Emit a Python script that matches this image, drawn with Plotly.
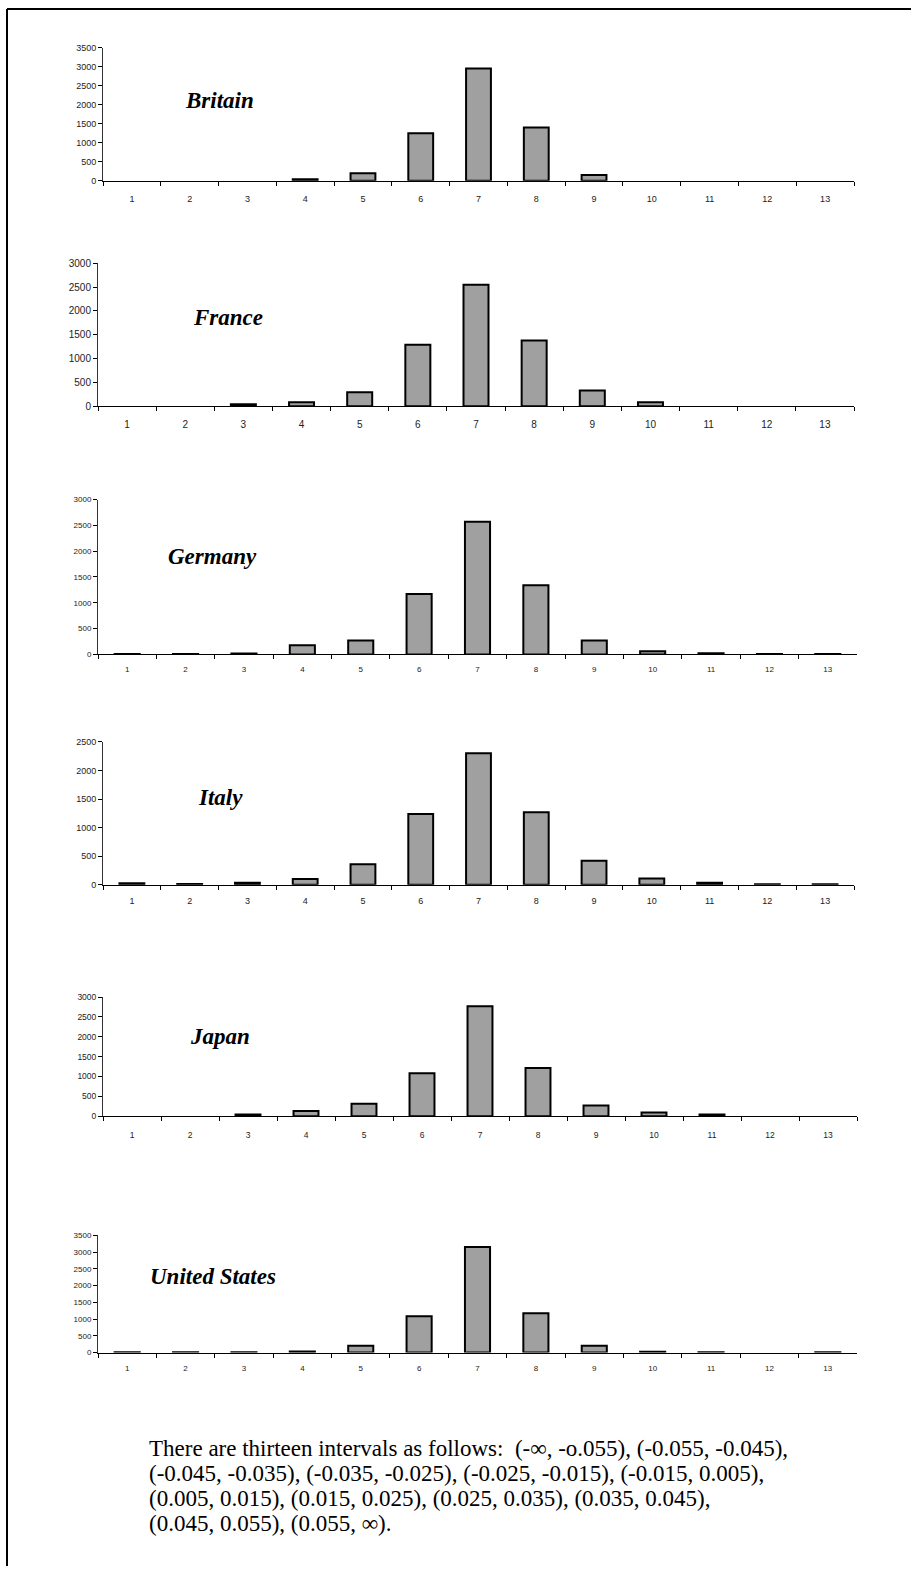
import plotly.graph_objects as go

W, H = 911, 1572

categories = [str(i) for i in range(1, 14)]

countries = ["Britain", "France", "Germany", "Italy", "Japan", "United States"]

britain = [0, 0, 0, 40, 200, 1250, 2950, 1400, 150, 0, 0, 0, 0]
france = [0, 0, 40, 80, 290, 1290, 2550, 1380, 330, 80, 0, 0, 0]
germany = [10, 10, 20, 180, 270, 1170, 2570, 1340, 270, 60, 25, 10, 10]
italy = [25, 15, 35, 100, 360, 1240, 2300, 1270, 420, 110, 35, 10, 10]
japan = [0, 0, 40, 130, 310, 1080, 2770, 1210, 270, 90, 40, 0, 0]
united_states = [10, 10, 10, 30, 200, 1080, 3150, 1170, 200, 20, 10, 0, 10]

series = [britain, france, germany, italy, japan, united_states]
y_max = [3500, 3000, 3000, 2500, 3000, 3500]
y_dtick = 500

note_lines = [
    "There are thirteen intervals as follows:  (-∞, -o.055), (-0.055, -0.045),",
    "(-0.045, -0.035), (-0.035, -0.025), (-0.025, -0.015), (-0.015, 0.005),",
    "(0.005, 0.015), (0.015, 0.025), (0.025, 0.035), (0.035, 0.045),",
    "(0.045, 0.055), (0.055, ∞).",
]

# panel geometry in pixels
panels = [
    dict(x0=103, x1=854, yt=43, yb=177, fs=9, tx=219, ty=96, so=9),
    dict(x0=98, x1=854, yt=260, yb=404, fs=10, tx=228, ty=315, so=9),
    dict(x0=98, x1=857, yt=498, yb=654, fs=8, tx=212, ty=555, so=7),
    dict(x0=103, x1=854, yt=742, yb=886, fs=9, tx=220, ty=798, so=7),
    dict(x0=103, x1=857, yt=999, yb=1119, fs=8.5, tx=220, ty=1039, so=11),
    dict(x0=98, x1=857, yt=1239, yb=1357, fs=8, tx=213, ty=1280, so=8),
]

fig = go.Figure()
layout = dict(
    width=W, height=H, margin=dict(l=0, r=0, t=0, b=0),
    paper_bgcolor="white", plot_bgcolor="white", showlegend=False,
)

annotations = []
for i, (name, vals, ym, p) in enumerate(zip(countries, series, y_max, panels)):
    n = i + 1
    xa = "x" if n == 1 else f"x{n}"
    ya = "y" if n == 1 else f"y{n}"
    shown = [v if v > 0 else None for v in vals]
    fig.add_trace(go.Bar(
        x=categories, y=shown, xaxis=xa, yaxis=ya,
        marker=dict(color="#a0a0a0", line=dict(color="black", width=2)),
        width=0.43,
    ))
    xkey = "xaxis" if n == 1 else f"xaxis{n}"
    ykey = "yaxis" if n == 1 else f"yaxis{n}"
    layout[xkey] = dict(
        domain=[p["x0"] / W, p["x1"] / W], anchor=ya, type="category",
        range=[-0.5, 12.5], tickson="boundaries", ticks="outside", ticklen=4,
        tickcolor="black", showline=True, linecolor="black", linewidth=1,
        showgrid=False, zeroline=False, ticklabelstandoff=p["so"],
        tickfont=dict(family="Liberation Sans, Arial", size=p["fs"], color="#222"),
        fixedrange=True,
    )
    layout[ykey] = dict(
        domain=[1 - p["yb"] / H, 1 - p["yt"] / H], anchor=xa,
        range=[0, ym], dtick=y_dtick, tick0=0, ticks="outside", ticklen=4,
        tickcolor="black", showline=True, linecolor="#333", linewidth=1,
        showgrid=False, zeroline=False,
        tickfont=dict(family="Liberation Sans, Arial", size=p["fs"], color="#222"),
        fixedrange=True,
    )
    annotations.append(dict(
        text=f"<b><i>{name}</i></b>", x=p["tx"] / W, y=1 - p["ty"] / H,
        xref="paper", yref="paper", showarrow=False, xanchor="center", yanchor="middle",
        font=dict(family="Liberation Serif, Times New Roman", size=23, color="black"),
    ))

for k, line in enumerate(note_lines):
    annotations.append(dict(
        text=line, x=147 / W, y=1 - (1454 + 25 * k) / H, xref="paper", yref="paper",
        showarrow=False, xanchor="left", yanchor="middle", align="left",
        font=dict(family="Liberation Serif, Times New Roman", size=23, color="black"),
    ))

layout["annotations"] = annotations
layout["shapes"] = [
    dict(type="line", xref="paper", yref="paper", x0=7 / W, x1=7 / W, y0=0, y1=1 - 4 / H,
         line=dict(color="black", width=2)),
    dict(type="line", xref="paper", yref="paper", x0=7 / W, x1=1, y0=1 - 4 / H, y1=1 - 4 / H,
         line=dict(color="black", width=2)),
]

fig.update_layout(**layout)
fig.write_html("out.html", config={"displayModeBar": False},
               post_script="document.body.style.margin='0px';")
